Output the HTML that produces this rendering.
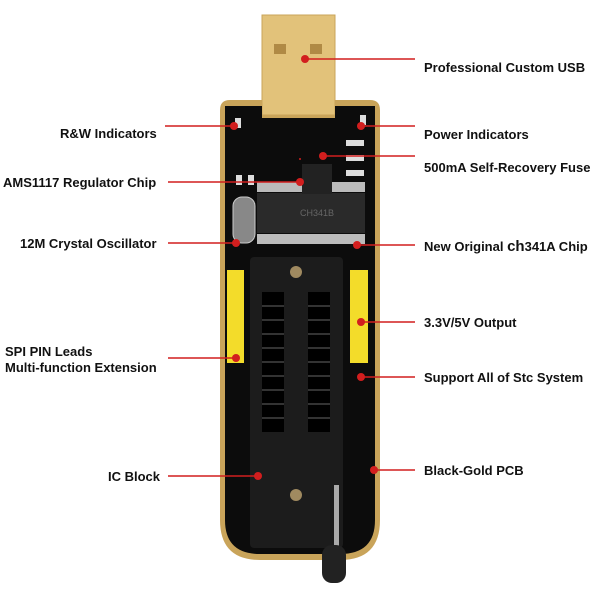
<!DOCTYPE html>
<html><head><style>
body{margin:0;width:600px;height:600px;background:#fff;position:relative;overflow:hidden;font-family:"Liberation Sans",sans-serif}
.l{position:absolute;font-weight:bold;font-size:13px;color:#111;white-space:nowrap}
</style></head><body>
<svg width="600" height="600" style="position:absolute;left:0;top:0">
<!-- USB -->
<rect x="262" y="15" width="73" height="100" fill="#e2c27a" stroke="#c9a45a"/>
<rect x="274" y="44" width="12" height="10" fill="#b08a45"/>
<rect x="310" y="44" width="12" height="10" fill="#b08a45"/>
<!-- board -->
<path d="M220 110 Q220 100 230 100 L262 100 L262 115 L335 115 L335 100 L370 100 Q380 100 380 110 L380 520 Q380 560 340 560 L260 560 Q220 560 220 520 Z" fill="#c9a45a"/>
<path d="M225 106 L262 106 L262 118 L335 118 L335 106 L375 106 L375 520 Q375 554 340 554 L260 554 Q225 554 225 520 Z" fill="#0c0c0c"/>
<!-- crystal -->
<rect x="233" y="197" width="22" height="46" rx="9" fill="#888" stroke="#ccc"/>
<!-- chip -->
<g fill="#bbb"><rect x="257" y="182" width="108" height="10"/><rect x="257" y="234" width="108" height="10"/></g>
<rect x="257" y="193" width="108" height="40" fill="#2a2a2a"/>
<text x="300" y="216" font-size="9" fill="#666" font-family="Liberation Sans">CH341B</text>
<!-- regulator -->
<rect x="302" y="164" width="30" height="30" fill="#222"/>
<!-- small components -->
<g fill="#ddd"><rect x="236" y="175" width="6" height="10"/><rect x="248" y="175" width="6" height="10"/><rect x="346" y="140" width="18" height="6"/><rect x="346" y="155" width="18" height="6"/><rect x="346" y="170" width="18" height="6"/><rect x="235" y="118" width="6" height="10"/><rect x="360" y="115" width="6" height="10"/></g>
<!-- headers -->
<rect x="227" y="270" width="17" height="93" fill="#f3dc2a"/>
<rect x="350" y="270" width="18" height="93" fill="#f3dc2a"/>
<!-- socket -->
<rect x="250" y="257" width="93" height="291" rx="4" fill="#1c1c1c"/>
<g fill="#000">
<rect x="262" y="292" width="22" height="140"/><rect x="308" y="292" width="22" height="140"/></g>
<g stroke="#333" stroke-width="2">
<line x1="262" y1="306" x2="284" y2="306"/><line x1="262" y1="320" x2="284" y2="320"/><line x1="262" y1="334" x2="284" y2="334"/><line x1="262" y1="348" x2="284" y2="348"/><line x1="262" y1="362" x2="284" y2="362"/><line x1="262" y1="376" x2="284" y2="376"/><line x1="262" y1="390" x2="284" y2="390"/><line x1="262" y1="404" x2="284" y2="404"/><line x1="262" y1="418" x2="284" y2="418"/>
<line x1="308" y1="306" x2="330" y2="306"/><line x1="308" y1="320" x2="330" y2="320"/><line x1="308" y1="334" x2="330" y2="334"/><line x1="308" y1="348" x2="330" y2="348"/><line x1="308" y1="362" x2="330" y2="362"/><line x1="308" y1="376" x2="330" y2="376"/><line x1="308" y1="390" x2="330" y2="390"/><line x1="308" y1="404" x2="330" y2="404"/><line x1="308" y1="418" x2="330" y2="418"/></g>
<circle cx="296" cy="272" r="6" fill="#a08a60"/><circle cx="296" cy="495" r="6" fill="#a08a60"/>
<rect x="334" y="485" width="5" height="75" fill="#aaa"/>
<rect x="322" y="545" width="24" height="38" rx="10" fill="#222"/>
<!-- callouts -->
<g stroke="#d21e1e" stroke-width="1.5" fill="none">
<line x1="305" y1="59" x2="415" y2="59"/>
<line x1="165" y1="126" x2="234" y2="126"/>
<line x1="361" y1="126" x2="415" y2="126"/>
<line x1="323" y1="156" x2="415" y2="156"/>
<line x1="300" y1="158" x2="300" y2="160"/>
<line x1="168" y1="182" x2="300" y2="182"/>
<line x1="168" y1="243" x2="236" y2="243"/>
<line x1="357" y1="245" x2="415" y2="245"/>
<line x1="361" y1="322" x2="415" y2="322"/>
<line x1="168" y1="358" x2="236" y2="358"/>
<line x1="361" y1="377" x2="415" y2="377"/>
<line x1="168" y1="476" x2="258" y2="476"/>
<line x1="374" y1="470" x2="415" y2="470"/>
</g>
<g fill="#d21e1e">
<circle cx="305" cy="59" r="4"/><circle cx="234" cy="126" r="4"/><circle cx="361" cy="126" r="4"/><circle cx="323" cy="156" r="4"/><circle cx="300" cy="182" r="4"/><circle cx="236" cy="243" r="4"/><circle cx="357" cy="245" r="4"/><circle cx="361" cy="322" r="4"/><circle cx="236" cy="358" r="4"/><circle cx="361" cy="377" r="4"/><circle cx="258" cy="476" r="4"/><circle cx="374" cy="470" r="4"/>
</g>
</svg>
<div class="l" style="left:424px;top:60px">Professional Custom USB</div>
<div class="l" style="left:60px;top:126px">R&amp;W Indicators</div>
<div class="l" style="left:424px;top:127px">Power Indicators</div>
<div class="l" style="left:424px;top:160px">500mA Self-Recovery Fuse</div>
<div class="l" style="left:3px;top:175px">AMS1117 Regulator Chip</div>
<div class="l" style="left:20px;top:236px">12M Crystal Oscillator</div>
<div class="l" style="left:424px;top:238px">New Original <span style="font-size:15px">ch</span>341A Chip</div>
<div class="l" style="left:424px;top:315px">3.3V/5V Output</div>
<div class="l" style="left:5px;top:344px;line-height:16px">SPI PIN Leads<br>Multi-function Extension</div>
<div class="l" style="left:424px;top:370px">Support All of Stc System</div>
<div class="l" style="left:108px;top:469px">IC Block</div>
<div class="l" style="left:424px;top:463px">Black-Gold PCB</div>
</body></html>
